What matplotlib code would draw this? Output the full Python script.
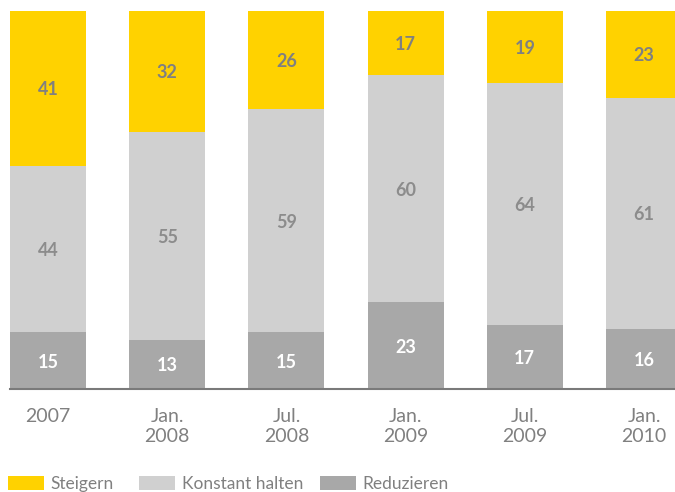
import matplotlib.pyplot as plt
import numpy as np

categories = ["2007", "Jan.\n2008", "Jul.\n2008", "Jan.\n2009", "Jul.\n2009", "Jan.\n2010"]
reduzieren = [15, 13, 15, 23, 17, 16]
konstant = [44, 55, 59, 60, 64, 61]
steigern = [41, 32, 26, 17, 19, 23]

yellow = "#FFD200"
light = "#D0D0D0"
dark = "#A8A8A8"
txt = "#808080"

plt.rcParams["font.family"] = ["Lato", "DejaVu Sans"]

fig = plt.figure(figsize=(6.75, 4.92), dpi=100)
ax = fig.add_axes([10 / 675, 103 / 492, 665 / 675, 378 / 492])

x = np.arange(len(categories))
w = 0.638
low = np.array(reduzieren)
mid = np.array(konstant)
top = np.array(steigern)

b1 = ax.bar(x, low, w, color=dark, label="Reduzieren")
b2 = ax.bar(x, mid, w, bottom=low, color=light, label="Konstant halten")
b3 = ax.bar(x, top, w, bottom=low + mid, color=yellow, label="Steigern")

for i in range(len(x)):
    ax.text(x[i], low[i] / 2, str(low[i]), ha="center", va="center_baseline",
            color="white", fontsize=13, fontweight="bold")
    ax.text(x[i], low[i] + mid[i] / 2, str(mid[i]), ha="center", va="center_baseline",
            color="#8C8C8C", fontsize=13, fontweight="bold")
    ax.text(x[i], low[i] + mid[i] + top[i] / 2, str(top[i]), ha="center", va="center_baseline",
            color="#808080", fontsize=13, fontweight="bold")

ax.set_xlim(-w / 2, (675 - 48) / 119.2)
ax.set_ylim(0, 100)
ax.set_xticks(x)
ax.set_xticklabels(categories, color=txt, fontsize=14, linespacing=1.2)
ax.tick_params(axis="x", length=0, pad=14)
ax.set_yticks([])
for s in ["top", "left", "right"]:
    ax.spines[s].set_visible(False)
ax.spines["bottom"].set_color("#7a7a7a")
ax.spines["bottom"].set_linewidth(1.5)

# one legend per entry so each sits where the reference puts it
legend_x = [8 / 675, 139 / 675, 320 / 675]
for h, lab, lx in zip([b3, b2, b1], ["Steigern", "Konstant halten", "Reduzieren"], legend_x):
    leg = fig.legend(handles=[h], labels=[lab], loc="lower left",
                     bbox_to_anchor=(lx, 0.0), frameon=False, fontsize=12.5,
                     handlelength=2.1, handleheight=0.85, handletextpad=0.35,
                     borderpad=0, borderaxespad=0)
    for t in leg.get_texts():
        t.set_color(txt)

fig.savefig("out.png", dpi=100)
